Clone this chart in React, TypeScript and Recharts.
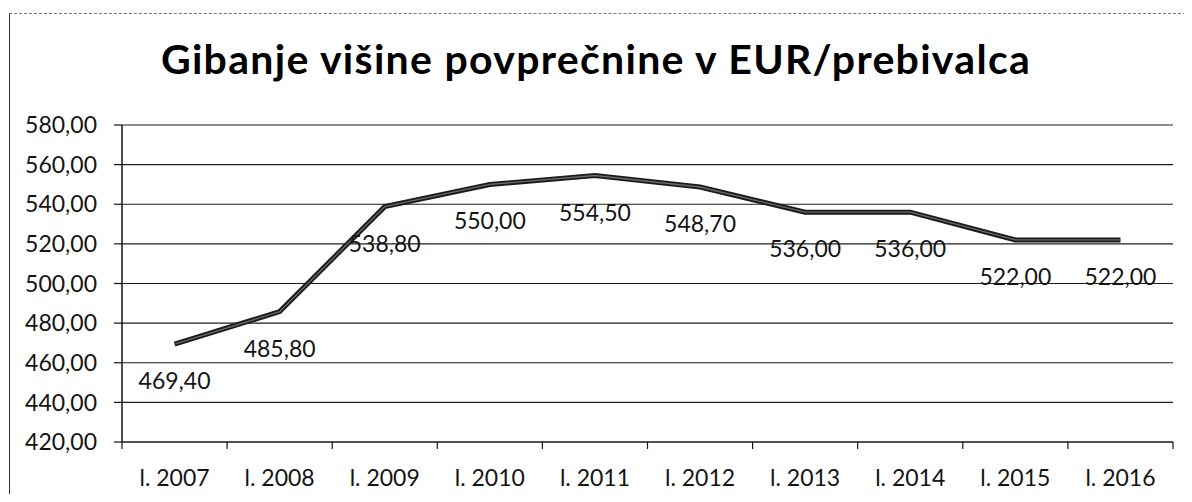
import React from "react";
import {
  ComposedChart,
  Line,
  XAxis,
  YAxis,
  CartesianGrid,
  LabelList,
} from "recharts";

const years = [
  "l. 2007",
  "l. 2008",
  "l. 2009",
  "l. 2010",
  "l. 2011",
  "l. 2012",
  "l. 2013",
  "l. 2014",
  "l. 2015",
  "l. 2016",
];
const values = [469.4, 485.8, 538.8, 550.0, 554.5, 548.7, 536.0, 536.0, 522.0, 522.0];
const yTicks = [420, 440, 460, 480, 500, 520, 540, 560, 580];

const TITLE = "Gibanje višine povprečnine v EUR/prebivalca";
const FONT = "Lato, 'Open Sans', sans-serif";
const INK = "#141414";

function fmt(v: number): string {
  return v.toFixed(2).replace(".", ",");
}

const data = years.map((year, i) => ({ year, value: values[i] }));

// Excel puts the category tick marks between the categories, not under them
function XTick(props: any) {
  const { x, y, payload, index } = props;
  const off = payload?.offset || 52.5;
  return (
    <g>
      <line x1={x - off} y1={y} x2={x - off} y2={y + 7} stroke={INK} strokeWidth={1.2} />
      {index === years.length - 1 && (
        <line x1={x + off} y1={y} x2={x + off} y2={y + 7} stroke={INK} strokeWidth={1.2} />
      )}
      <text
        x={x}
        y={y + 44}
        textAnchor="middle"
        fontSize={23}
        fontFamily={FONT}
        fill={INK}
      >
        {payload.value}
      </text>
    </g>
  );
}

function ValueLabel(props: any) {
  const { x, y, value } = props;
  return (
    <text
      x={x}
      y={y + 45}
      textAnchor="middle"
      fontSize={23}
      fontFamily={FONT}
      fill={INK}
    >
      {fmt(Number(value))}
    </text>
  );
}

export default function App() {
  return (
    <div
      style={{
        position: "relative",
        width: 1192,
        height: 502,
        margin: -8,
        background: "#fff",
        overflow: "hidden",
      }}
    >
      {/* frame of the scanned chart */}
      <div
        style={{
          position: "absolute",
          left: 9,
          top: 13,
          right: -4,
          bottom: -4,
          borderLeft: "1.5px solid #333",
          borderTop: "1px dashed #777",
        }}
      />
      <div
        style={{
          position: "absolute",
          left: 0,
          width: 1192,
          top: 34,
          textAlign: "center",
          fontFamily: FONT,
          fontWeight: 700,
          fontSize: 41,
          letterSpacing: 1.3,
          color: "#000",
          lineHeight: "50px",
          whiteSpace: "nowrap",
        }}
      >
        {TITLE}
      </div>
      <div style={{ position: "absolute", left: 0, top: 0 }}>
        <ComposedChart
          width={1192}
          height={502}
          data={data}
          margin={{ top: 125, right: 19, bottom: 10, left: 22 }}
        >
          <CartesianGrid vertical={false} stroke="#1e1e1e" strokeWidth={1.2} />
          <XAxis
            dataKey="year"
            scale="band"
            interval={0}
            tickLine={false}
            tickSize={0}
            tickMargin={0}
            height={50}
            axisLine={{ stroke: INK, strokeWidth: 1.2 }}
            tick={<XTick />}
          />
          <YAxis
            domain={[420, 580]}
            ticks={yTicks}
            width={100}
            tickSize={8}
            tickMargin={17}
            tickFormatter={fmt}
            axisLine={{ stroke: INK, strokeWidth: 1.5 }}
            tickLine={{ stroke: INK, strokeWidth: 1.2 }}
            tick={{ fontSize: 23, fontFamily: FONT, fill: INK }}
          />
          <Line
            type="linear"
            dataKey="value"
            stroke="#1a1a1a"
            strokeWidth={5}
            dot={false}
            isAnimationActive={false}
          />
          <Line
            type="linear"
            dataKey="value"
            stroke="#6a6a6a"
            strokeWidth={1.3}
            dot={false}
            isAnimationActive={false}
          >
            <LabelList dataKey="value" content={<ValueLabel />} />
          </Line>
        </ComposedChart>
      </div>
    </div>
  );
}
